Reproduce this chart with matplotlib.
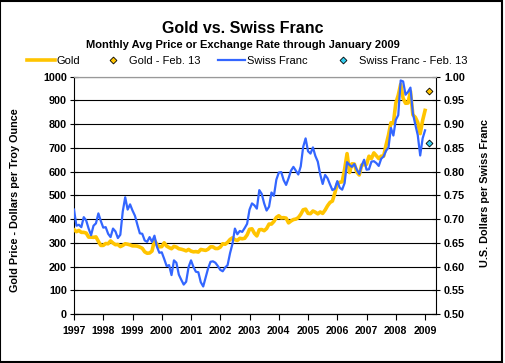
import numpy as np
import matplotlib
matplotlib.use("Agg")
import matplotlib.pyplot as plt
import matplotlib.patches as patches
from matplotlib.lines import Line2D

plt.rcParams['font.family'] = ['Liberation Sans', 'DejaVu Sans']

# monthly averages, Jan 1997 .. Jan 2009
gold = [355, 347, 352, 344, 344, 341, 324, 324, 323, 325, 306, 289,
        289, 297, 296, 308, 299, 292, 293, 284, 289, 296, 294, 291,
        287, 287, 286, 282, 277, 262, 256, 257, 265, 311, 293, 283,
        284, 300, 286, 280, 275, 285, 282, 275, 273, 270, 266, 272,
        265, 262, 263, 261, 272, 270, 268, 273, 283, 283, 276, 276,
        282, 296, 294, 302, 314, 321, 313, 310, 319, 317, 319, 333,
        357, 359, 340, 329, 355, 356, 351, 360, 379, 379, 390, 407,
        414, 405, 406, 404, 384, 392, 398, 400, 406, 420, 439, 442,
        424, 423, 434, 429, 422, 430, 424, 438, 456, 470, 476, 510,
        549, 555, 557, 610, 676, 596, 633, 632, 598, 586, 628, 629,
        631, 665, 655, 679, 667, 655, 665, 665, 712, 754, 806, 803,
        889, 922, 968, 909, 888, 889, 939, 839, 829, 807, 760, 816,
        858]
franc = [0.720, 0.686, 0.688, 0.683, 0.704, 0.697, 0.680, 0.666, 0.686, 0.691, 0.712, 0.696,
         0.682, 0.683, 0.669, 0.662, 0.680, 0.674, 0.660, 0.667, 0.716, 0.746, 0.720, 0.731,
         0.718, 0.707, 0.688, 0.670, 0.669, 0.655, 0.652, 0.662, 0.652, 0.665, 0.642, 0.629,
         0.630, 0.616, 0.601, 0.603, 0.582, 0.613, 0.608, 0.583, 0.572, 0.562, 0.568, 0.599,
         0.613, 0.599, 0.589, 0.588, 0.567, 0.558, 0.577, 0.596, 0.610, 0.611, 0.608, 0.601,
         0.593, 0.590, 0.598, 0.603, 0.628, 0.648, 0.680, 0.668, 0.675, 0.673, 0.681, 0.690,
         0.720, 0.733, 0.729, 0.722, 0.761, 0.753, 0.733, 0.718, 0.726, 0.756, 0.749, 0.783,
         0.798, 0.799, 0.782, 0.772, 0.786, 0.802, 0.810, 0.802, 0.794, 0.811, 0.852, 0.870,
         0.843, 0.838, 0.851, 0.833, 0.821, 0.794, 0.774, 0.793, 0.786, 0.773, 0.761, 0.764,
         0.780, 0.766, 0.762, 0.776, 0.820, 0.814, 0.810, 0.816, 0.804, 0.795, 0.813, 0.825,
         0.804, 0.805, 0.821, 0.822, 0.818, 0.812, 0.827, 0.832, 0.844, 0.851, 0.892, 0.876,
         0.909, 0.919, 0.992, 0.990, 0.962, 0.968, 0.977, 0.923, 0.899, 0.877, 0.834, 0.870,
         0.887]
months = 1997 + np.arange(len(gold)) / 12.0

feb13_x = 2009 + 43 / 365.0
gold_feb13 = 940
franc_feb13 = 0.861

years = list(range(1997, 2010))
gold_ticks = list(range(0, 1001, 100))
franc_ticks = [0.50 + 0.05 * i for i in range(11)]

GOLD = '#FFC400'
BLUE = '#3366FF'
CYAN = '#33CCEE'

W, H = 506, 363
fig = plt.figure(figsize=(W / 100, H / 100), dpi=100)
fig.patch.set_facecolor('white')

def fx(px):
    return px / W

def fy(py):
    return 1 - py / H

ax = fig.add_axes([fx(74), fy(314), fx(435.6) - fx(74), fy(76.7) - fy(314)])
ax2 = ax.twinx()

ax.set_xlim(1997, 2009.36)
ax.set_ylim(0, 1000)
ax2.set_ylim(0.5, 1.0)

ax.plot(months, gold, color=GOLD, lw=2.6, zorder=3)
ax2.plot(months, franc, color=BLUE, lw=1.6, zorder=3)
ax.plot([feb13_x], [gold_feb13], 'D', ms=3.5, mfc=GOLD, mec='black', mew=0.6, zorder=4)
ax2.plot([feb13_x], [franc_feb13], 'D', ms=3.5, mfc=CYAN, mec='black', mew=0.6, zorder=4)

ax.set_yticks(gold_ticks)
ax.set_xticks(years)
ax.set_xticklabels([str(y) for y in years])
ax2.set_yticks(franc_ticks)
ax2.set_yticklabels(['%.2f' % v for v in franc_ticks])

ax.grid(axis='y', color='black', lw=0.8)
ax.set_axisbelow(True)

for a in (ax, ax2):
    for s in a.spines.values():
        s.set_linewidth(0.8)
    a.spines['top'].set_color('#999999')
    a.spines['bottom'].set_color('black')

ax.spines['right'].set_visible(False)
ax2.spines['left'].set_visible(False)

ax.tick_params(axis='y', direction='inout', length=6, width=0.8, pad=2, labelsize=7.8)
ax.tick_params(axis='x', direction='out', length=4, width=0.8, pad=5, labelsize=7.6)
ax2.tick_params(axis='y', direction='inout', length=6, width=0.8, pad=3, labelsize=7.8)
for lab in ax.get_yticklabels() + ax.get_xticklabels() + ax2.get_yticklabels():
    lab.set_fontweight('bold')

# titles and axis labels
fig.text(fx(243), fy(33.3), 'Gold vs. Swiss Franc', ha='center', va='baseline',
         fontsize=11.5, fontweight='bold')
fig.text(fx(243), fy(48.3), 'Monthly Avg Price or Exchange Rate through January 2009',
         ha='center', va='baseline', fontsize=8, fontweight='bold')
fig.text(fx(15), fy(200), 'Gold Price - Dollars per Troy Ounce', rotation=90,
         ha='center', va='center', fontsize=7.8, fontweight='bold')
fig.text(fx(485), fy(193), 'U.S. Dollars per Swiss Franc', rotation=90,
         ha='center', va='center', fontsize=7.8, fontweight='bold')

# legend row
ly = fy(60)
fig.add_artist(Line2D([fx(27), fx(55)], [ly, ly], color=GOLD, lw=2.6))
fig.text(fx(57), fy(64), 'Gold', fontsize=8, va='baseline')
fig.add_artist(Line2D([fx(113)], [ly], marker='D', ms=3.5, mfc=GOLD, mec='black', mew=0.6))
fig.text(fx(129), fy(64), 'Gold - Feb. 13', fontsize=8, va='baseline')
fig.add_artist(Line2D([fx(218), fx(245)], [ly, ly], color=BLUE, lw=1.6))
fig.text(fx(247), fy(64), 'Swiss Franc', fontsize=8, va='baseline')
fig.add_artist(Line2D([fx(343)], [ly], marker='D', ms=3.5, mfc=CYAN, mec='black', mew=0.6))
fig.text(fx(359), fy(64), 'Swiss Franc - Feb. 13', fontsize=8, va='baseline')

# outer border
fig.add_artist(patches.Rectangle((fx(0.5), fy(362)), fx(502) - fx(0.5), fy(0.5) - fy(362),
                                 transform=fig.transFigure, fill=False, edgecolor='black', lw=1.5))

fig.savefig('out.png', dpi=100)
